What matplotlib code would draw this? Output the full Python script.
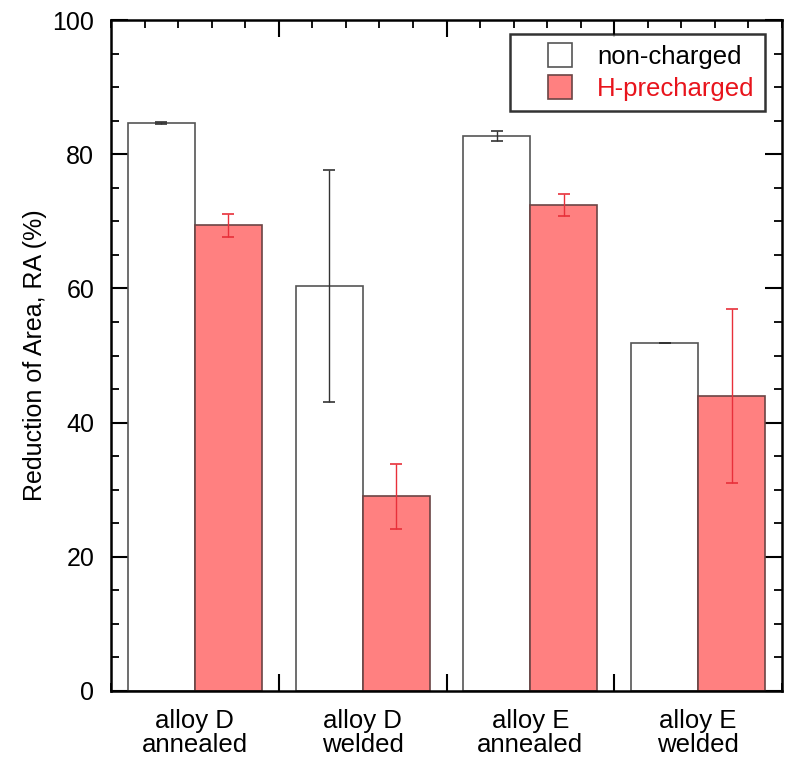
import matplotlib
matplotlib.use("Agg")
import matplotlib.pyplot as plt
import matplotlib.transforms as mtransforms
from matplotlib.ticker import MultipleLocator, NullFormatter
from matplotlib.legend_handler import HandlerPatch
from matplotlib.patches import Rectangle
import numpy as np

plt.rcParams['font.family'] = ['Liberation Sans', 'DejaVu Sans']

categories = ["alloy D\nannealed", "alloy D\nwelded", "alloy E\nannealed", "alloy E\nwelded"]
series_names = ["non-charged", "H-precharged"]
non_charged = [84.6, 60.3, 82.7, 51.8]
non_charged_err = [0.15, 17.3, 0.75, 0.0]
h_precharged = [69.4, 29.0, 72.4, 44.0]
h_precharged_err = [1.7, 4.9, 1.65, 13.0]
y_ticks = [0, 20, 40, 60, 80, 100]

fig = plt.figure(figsize=(7.89, 7.58), dpi=100)
ax = fig.add_axes([111/789, 67/758, 671/789, 671/758])

x = np.arange(len(categories)) + 0.5
w = 0.4
b1 = ax.bar(x - w/2, non_charged, w, color="white", edgecolor="#555555", linewidth=1.2, zorder=2)
b2 = ax.bar(x + w/2, h_precharged, w, color="#ff8080", edgecolor="#6b4444", linewidth=1.2, zorder=2)
ax.errorbar(x - w/2, non_charged, yerr=non_charged_err, fmt="none", ecolor="#333333",
            elinewidth=1.0, capsize=4, capthick=1.2, zorder=3)
ax.errorbar(x + w/2, h_precharged, yerr=h_precharged_err, fmt="none", ecolor="#e8303a",
            elinewidth=1.0, capsize=4, capthick=1.2, zorder=3)

ax.set_xlim(0, 4)
ax.set_ylim(0, 100)
ax.set_yticks(y_ticks)
ax.yaxis.set_minor_locator(MultipleLocator(5))
ax.set_xticks([1, 2, 3])
ax.xaxis.set_major_formatter(NullFormatter())
ax.xaxis.set_minor_locator(MultipleLocator(0.2))
ax.tick_params(axis="both", which="major", direction="in", length=12, width=1.5,
               top=True, right=True, labelsize=18, pad=12)
ax.tick_params(axis="both", which="minor", direction="in", length=6, width=1.3,
               top=True, right=True)
for s in ax.spines.values():
    s.set_linewidth(1.8)

trans = mtransforms.blended_transform_factory(ax.transData, ax.transAxes)
for xi, lab in zip(x, categories):
    ax.text(xi, -0.027, lab, transform=trans, ha="center", va="top", fontsize=18.5,
            linespacing=1.0)

ax.set_ylabel("Reduction of Area, RA (%)", fontsize=18, labelpad=4)


def square_right(legend, orig_handle, xdescent, ydescent, width, height, fontsize):
    s = 17.3  # points (about 24 px)
    return Rectangle((width - xdescent - s, (height - s) / 2 - ydescent), s, s)


leg = ax.legend([b1[0], b2[0]], series_names, loc="upper right", bbox_to_anchor=(0.9747, 0.979),
                fontsize=18.5, frameon=True, fancybox=False, handlelength=2.0,
                handleheight=0.95, handletextpad=1.0, borderpad=0.4, labelspacing=0.25,
                borderaxespad=0,
                handler_map={Rectangle: HandlerPatch(patch_func=square_right)})
leg.get_frame().set_edgecolor("black")
leg.get_frame().set_linewidth(1.8)
leg.get_texts()[1].set_color("#e8141c")

fig.savefig("out.png", dpi=100)
